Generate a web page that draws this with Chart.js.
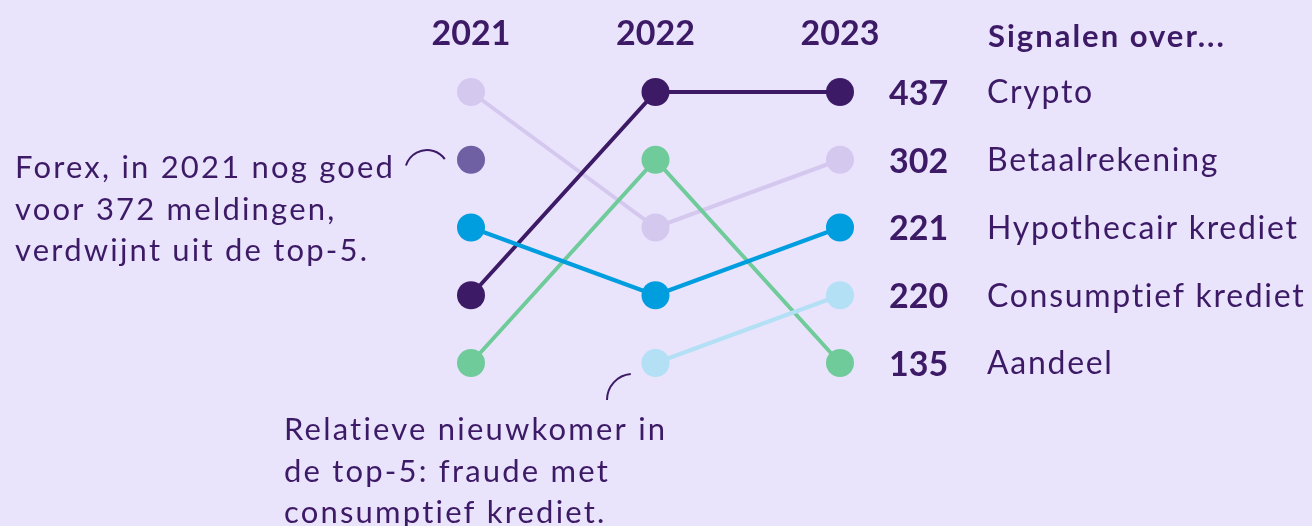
<!DOCTYPE html>
<html>
<head>
<meta charset="utf-8">
<script src="https://cdn.jsdelivr.net/npm/chart.js@4.4.1/dist/chart.umd.min.js"></script>
<style>
  html, body { margin: 0; padding: 0; background: #e9e4fc; }
  #wrap { width: 1312px; height: 526px; position: relative; }
</style>
</head>
<body>
<div id="wrap"><canvas id="c" width="1312" height="526"></canvas></div>
<script>
// ---- Data ----
const years = ['2021', '2022', '2023'];
const cryptoRank = [4, 1, 1];
const betaalRank = [1, 3, 2];
const forexRank = [2, null, null];
const hypoRank = [3, 4, 3];
const consRank = [null, 5, 4];
const aandeelRank = [5, 2, 5];
const labels2023 = ['Crypto', 'Betaalrekening', 'Hypothecair krediet', 'Consumptief krediet', 'Aandeel'];
const values2023 = [437, 302, 221, 220, 135];
const ranks2023 = [1, 2, 3, 4, 5];
const legendTitle = 'Signalen over...';
const forexNote = ['Forex, in 2021 nog goed', 'voor 372 meldingen,', 'verdwijnt uit de top-5.'];
const consNote = ['Relatieve nieuwkomer in', 'de top-5: fraude met', 'consumptief krediet.'];

const TEXT = '#3d1a66';
const FONT = 'Lato, "Open Sans", sans-serif';

function ds(label, data, color, order) {
  return {
    label, data, borderColor: color, backgroundColor: color,
    pointBackgroundColor: color, pointBorderColor: color,
    borderWidth: 4, pointRadius: 14, pointHoverRadius: 14, pointBorderWidth: 0,
    spanGaps: false, clip: false, order, tension: 0
  };
}

function fitText(ctx, text, x, y, width) {
  // draw text with letter spacing so that it spans the given width
  ctx.letterSpacing = '0px';
  const w = ctx.measureText(text).width;
  const n = Math.max(1, text.length - 1);
  const sp = Math.max(0, (width - w) / n);
  ctx.letterSpacing = sp.toFixed(2) + 'px';
  ctx.fillText(text, x, y);
  ctx.letterSpacing = '0px';
}

const textPlugin = {
  id: 'texts',
  afterDatasetsDraw(chart) {
    const ctx = chart.ctx;
    const xs = chart.scales.x, ys = chart.scales.y;
    ctx.save();
    ctx.fillStyle = TEXT;
    // year labels
    ctx.font = 'bold 34px ' + FONT;
    ctx.textAlign = 'center';
    ctx.textBaseline = 'middle';
    years.forEach((y, i) => ctx.fillText(y, xs.getPixelForValue(i), 34));
    // legend title
    ctx.textAlign = 'left';
    ctx.font = 'bold 31px ' + FONT;
    ctx.letterSpacing = '2px';
    ctx.fillText(legendTitle, 988, 37);
    // values and labels
    ranks2023.forEach((r, i) => {
      const py = ys.getPixelForValue(r) + 2;
      ctx.font = 'bold 34px ' + FONT;
      ctx.letterSpacing = '0px';
      ctx.fillText(String(values2023[i]), 889, py);
      ctx.font = '32px ' + FONT;
      ctx.letterSpacing = '1.7px';
      ctx.fillText(labels2023[i], 987, py - 1);
    });
    // annotations
    ctx.font = '31px ' + FONT;
    ctx.letterSpacing = '2.2px';
    forexNote.forEach((t, i) => ctx.fillText(t, 15, 168 + i * 41.5));
    consNote.forEach((t, i) => ctx.fillText(t, 284, 430 + i * 41.5));
    ctx.letterSpacing = '0px';
    // arcs
    ctx.strokeStyle = TEXT;
    ctx.lineWidth = 2;
    ctx.beginPath();
    ctx.arc(427, 172, 22, -163 * Math.PI / 180, -36 * Math.PI / 180);
    ctx.stroke();
    ctx.beginPath();
    ctx.arc(633, 400, 26, Math.PI, 265 * Math.PI / 180);
    ctx.stroke();
    ctx.restore();
  }
};

new Chart(document.getElementById('c'), {
  type: 'line',
  data: {
    labels: years,
    datasets: [
      ds('Hypothecair krediet', hypoRank, '#009ddf', 1),
      ds('Crypto', cryptoRank, '#3d1a66', 2),
      ds('Consumptief krediet', consRank, '#b3e0f5', 3),
      ds('Aandeel', aandeelRank, '#70cb9a', 4),
      ds('Betaalrekening', betaalRank, '#d5c8ef', 5),
      ds('Forex', forexRank, '#6f5fa3', 6)
    ]
  },
  options: {
    responsive: false,
    animation: false,
    layout: { padding: { left: 471, right: 472, top: 92, bottom: 163 } },
    plugins: { legend: { display: false }, tooltip: { enabled: false } },
    scales: {
      x: { type: 'category', display: false, offset: false },
      y: { type: 'linear', display: false, min: 1, max: 5, reverse: true }
    }
  },
  plugins: [textPlugin]
});
</script>
</body>
</html>
